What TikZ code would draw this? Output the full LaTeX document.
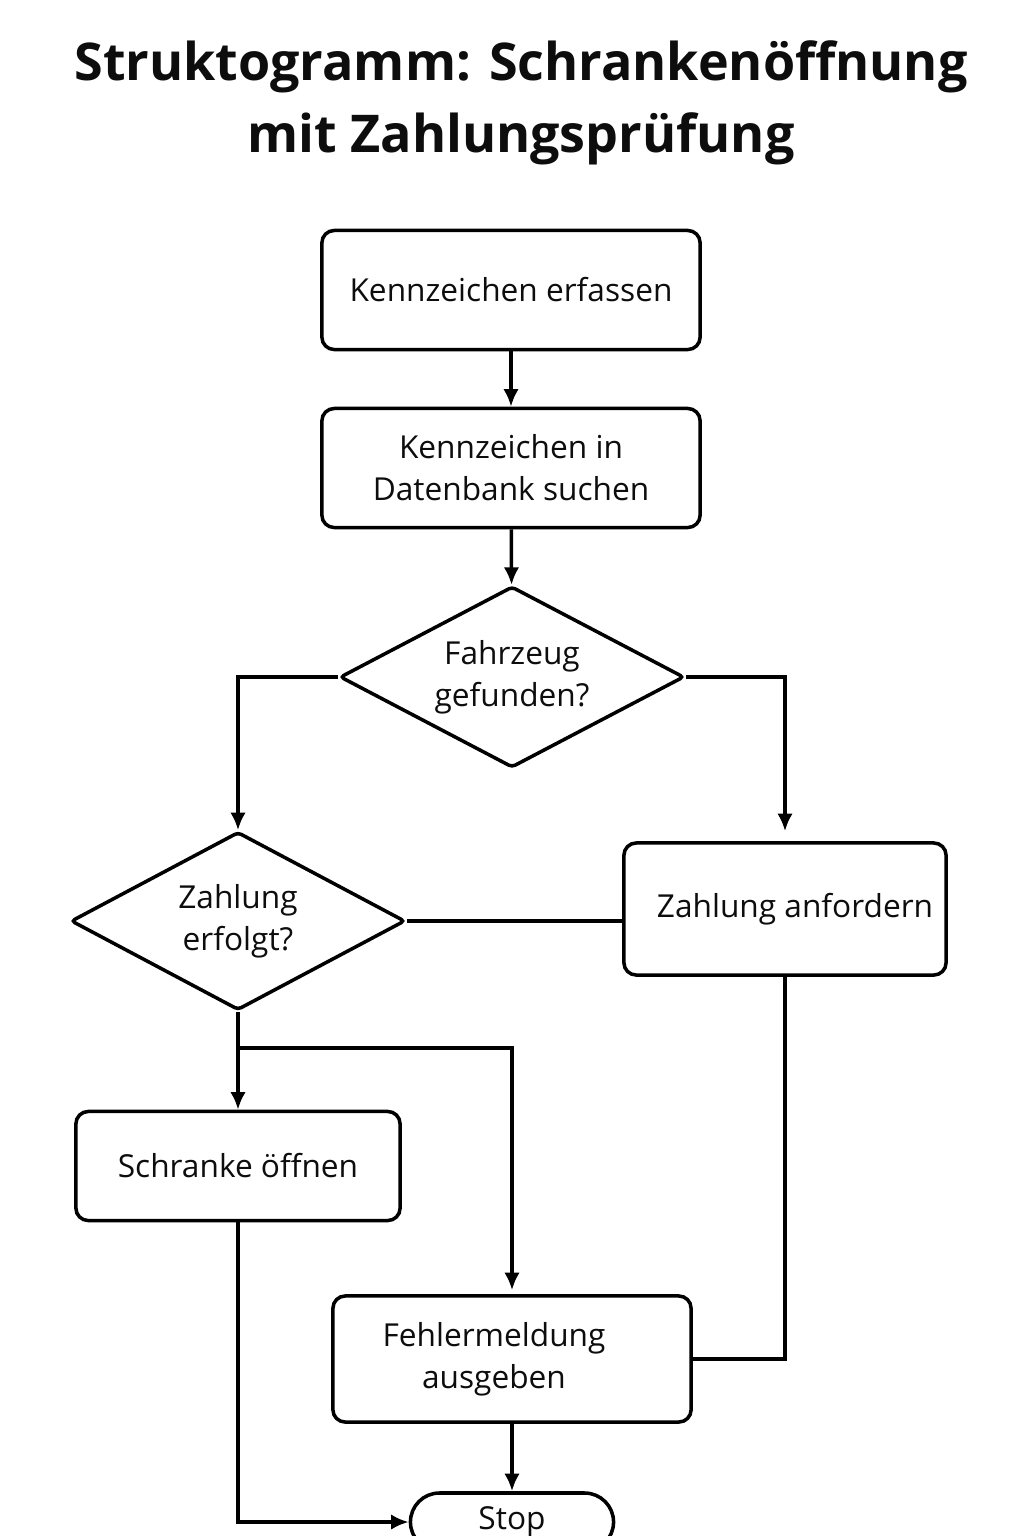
\documentclass[tikz,border=0pt]{standalone}
\usepackage{fontspec}
\setmainfont{Open Sans}
\usepackage{tikz}
\usetikzlibrary{shapes.geometric, arrows.meta}

\begin{document}
\begin{tikzpicture}[x=0.01cm, y=-0.01cm, line width=1pt,
    every node/.style={font=\fontsize{9}{12}\selectfont, align=center, text=black!95},
    box/.style={draw, rounded corners=3.5pt, inner sep=0pt},
    decision/.style={draw, diamond, shape aspect=1.9, inner sep=0pt, rounded corners=1pt},
    terminal/.style={draw, rounded corners=0.29cm, minimum width=2.03cm, minimum height=0.58cm, inner sep=0pt},
    arrow/.style={-{Latex[length=5pt, width=4.4pt]}}]
    \clip (0,0) rectangle (1024,1536);

    % Titel
    \node[font=\fontsize{14.8}{20}\selectfont\bfseries] (title) at (521,103)
        {Struktogramm: Schrankenöffnung\\[0.5pt] mit Zahlungsprüfung};

    % Anweisungen und Verzweigungen
    \node[box, minimum width=3.78cm, minimum height=1.19cm] (erfassen) at (511,290) {Kennzeichen erfassen};
    \node[box, minimum width=3.78cm, minimum height=1.19cm] (suchen) at (511,468) {Kennzeichen in\\Datenbank suchen};
    \node[decision, minimum width=3.44cm, minimum height=1.81cm] (gefunden) at (512,677) {Fahrzeug\\gefunden?};
    \node[decision, minimum width=3.34cm, minimum height=1.78cm] (erfolgt) at (238,921) {Zahlung\\erfolgt?};
    \node[box, minimum width=3.22cm, minimum height=1.32cm] (anfordern) at (785,909) {\hspace{0.2cm}Zahlung anfordern};
    \node[box, minimum width=3.24cm, minimum height=1.09cm] (oeffnen) at (238,1166) {Schranke öffnen};
    \node[box, minimum width=3.58cm, minimum height=1.26cm] (fehler) at (512,1359)
        {Fehlermeldung\hspace*{0.36cm}\\ausgeben\hspace*{0.36cm}};
    \node[terminal] (stop) at (512,1522) {Stop};

    % Verbindungen
    \draw[arrow] (erfassen) -- (suchen);
    \draw[arrow] (suchen) -- (gefunden);
    \draw[arrow] (gefunden.west) -| (erfolgt.north);
    \draw[arrow] (gefunden.east) -| ([yshift=0.1cm]anfordern.north);
    \draw (erfolgt.east) -- (anfordern.west |- erfolgt.east);
    \draw[arrow] (erfolgt) -- (oeffnen);
    \draw[arrow] (238,1048) -| ([yshift=0.04cm]fehler.north);
    \draw (anfordern.south) |- (fehler.east);
    \draw[arrow] (oeffnen.south) |- (stop.west);
    \draw[arrow] (fehler) -- (stop);
\end{tikzpicture}
\end{document}
